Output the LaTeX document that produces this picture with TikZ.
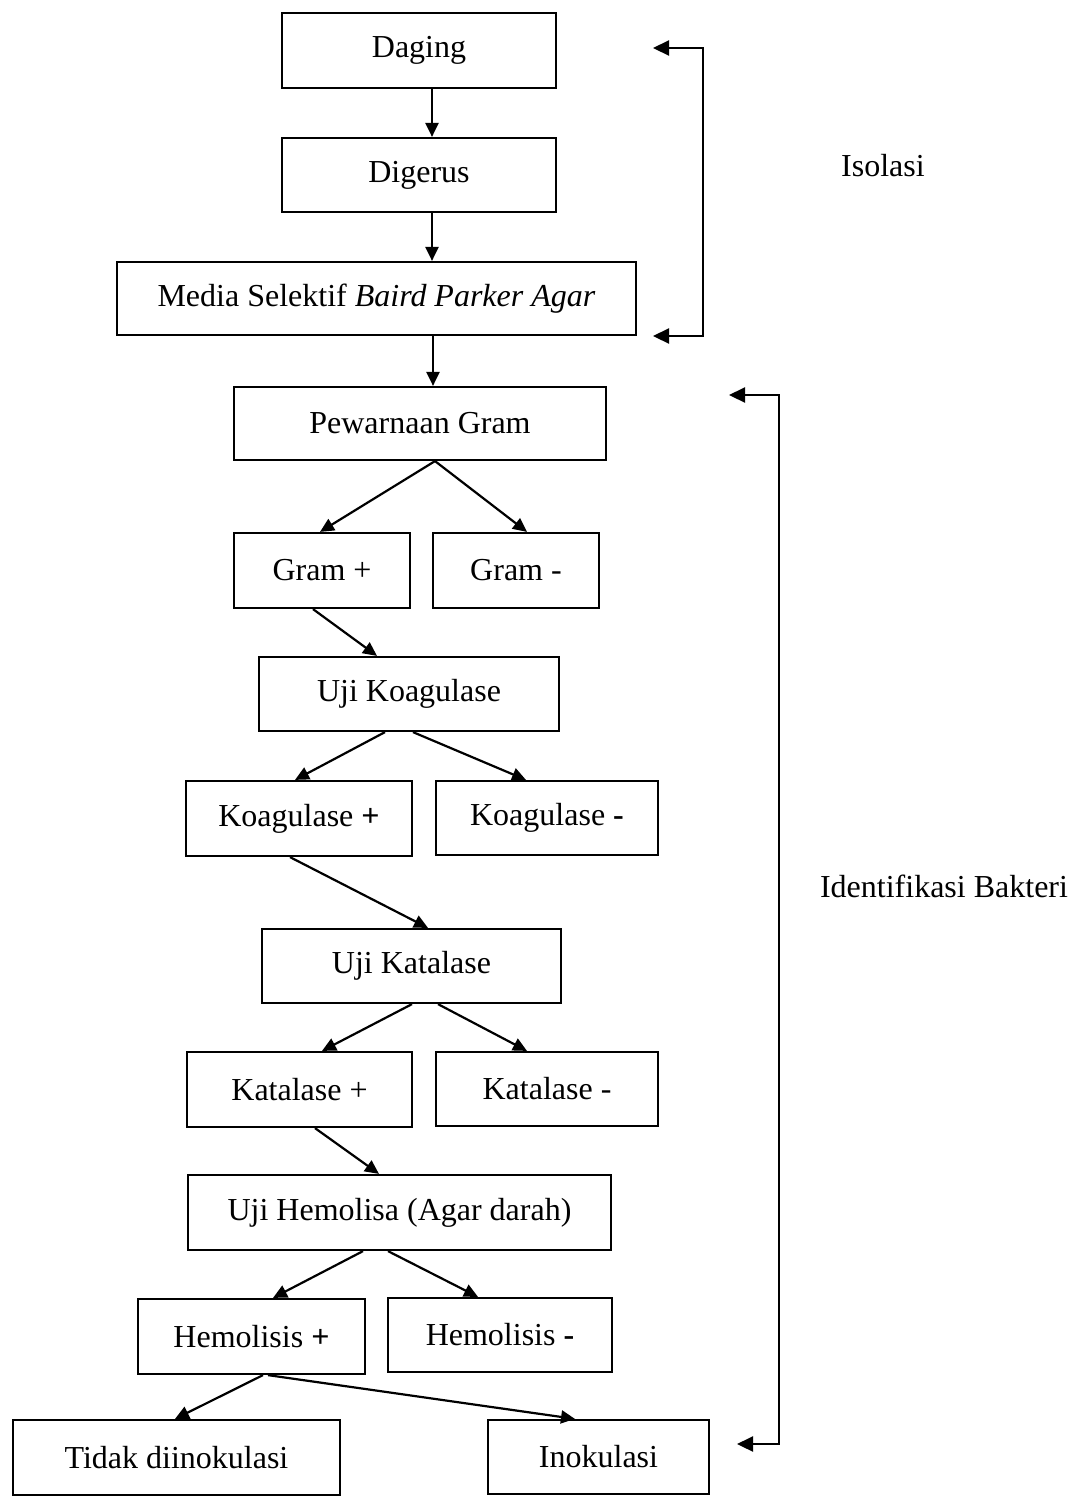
\documentclass[tikz,border=0pt]{standalone}
\usepackage{fontspec}
\setmainfont{Liberation Serif}
\usetikzlibrary{arrows.meta}
\tikzset{
  box/.style={draw=black, line width=2.2pt, inner sep=0pt, align=center,
    font=\fontsize{32}{38}\selectfont},
  arr/.style={line width=2.2pt, -{Triangle[length=14pt,width=13pt]}},
  brk/.style={line width=2.2pt, {Triangle[length=16pt,width=15pt]}-{Triangle[length=16pt,width=15pt]}},
  lbl/.style={inner sep=0pt, font=\fontsize{32}{38}\selectfont},
}
\begin{document}
\begin{tikzpicture}[x=1pt,y=-1pt]
\useasboundingbox (0,0) rectangle (1077,1497);
% boxes
\node[box, minimum width=274pt, minimum height=75pt] (daging) at (419,50.5) {Daging};
\node[box, minimum width=274pt, minimum height=74pt] (digerus) at (419,175) {Digerus};
\node[box, minimum width=519pt, minimum height=73pt] (media) at (376.5,298.5) {Media Selektif \textit{Baird Parker Agar}};
\node[box, minimum width=372pt, minimum height=73pt] (pew) at (420,423.5) {Pewarnaan Gram};
\node[box, minimum width=176pt, minimum height=75pt] (gramp) at (322,570.5) {Gram +};
\node[box, minimum width=166pt, minimum height=75pt] (gramm) at (516,570.5) {Gram -};
\node[box, minimum width=300pt, minimum height=74pt] (ujikoag) at (409,694) {Uji Koagulase};
\node[box, minimum width=226pt, minimum height=75pt] (koagp) at (299,818.5) {Koagulase \textbf{+}};
\node[box, minimum width=222pt, minimum height=74pt] (koagm) at (547,818) {Koagulase \textbf{-}};
\node[box, minimum width=299pt, minimum height=74pt] (ujikat) at (411.5,966) {Uji Katalase};
\node[box, minimum width=225pt, minimum height=75pt] (katp) at (299.5,1089.5) {Katalase +};
\node[box, minimum width=222pt, minimum height=74pt] (katm) at (547,1089) {Katalase -};
\node[box, minimum width=423pt, minimum height=75pt] (hemo) at (399.5,1212.5) {Uji Hemolisa (Agar darah)};
\node[box, minimum width=227pt, minimum height=75pt] (hemp) at (251.5,1336.5) {Hemolisis \textbf{+}};
\node[box, minimum width=224pt, minimum height=74pt] (hemm) at (500,1335) {Hemolisis \textbf{-}};
\node[box, minimum width=327pt, minimum height=75pt] (tidak) at (176.5,1457.5) {Tidak diinokulasi};
\node[box, minimum width=221pt, minimum height=74pt] (inok) at (598.5,1457) {Inokulasi};
% flow arrows
\draw[arr] ([xshift=13pt]daging.south) -- ([xshift=13pt]digerus.north);
\draw[arr] ([xshift=13pt]digerus.south) -- ([xshift=55.5pt]media.north);
\draw[arr] ([xshift=56.5pt]media.south) -- ([xshift=13pt]pew.north);
\draw[arr] ([xshift=15pt]pew.south) -- ([xshift=-2pt]gramp.north);
\draw[arr] ([xshift=15pt]pew.south) -- ([xshift=11pt]gramm.north);
\draw[arr] ([xshift=-9pt]gramp.south) -- ([xshift=-32pt]ujikoag.north);
\draw[arr] ([xshift=-24pt]ujikoag.south) -- ([xshift=-4pt]koagp.north);
\draw[arr] ([xshift=4pt]ujikoag.south) -- ([xshift=-21pt]koagm.north);
\draw[arr] ([xshift=-9pt]koagp.south) -- ([xshift=16.5pt]ujikat.north);
\draw[arr] ([xshift=0.5pt]ujikat.south) -- ([xshift=22.5pt]katp.north);
\draw[arr] ([xshift=26.5pt]ujikat.south) -- ([xshift=-20pt]katm.north);
\draw[arr] ([xshift=15.5pt]katp.south) -- ([xshift=-20.5pt]hemo.north);
\draw[arr] ([xshift=-36.5pt]hemo.south) -- ([xshift=21.5pt]hemp.north);
\draw[arr] ([xshift=-11.5pt]hemo.south) -- ([xshift=-22pt]hemm.north);
\draw[arr] ([xshift=11.5pt]hemp.south) -- ([xshift=-1.5pt]tidak.north);
\draw[arr] ([xshift=16.5pt]hemp.south) -- ([xshift=-23.5pt]inok.north);
% side brackets
\coordinate (isoA) at (653,48);
\coordinate (isoB) at (703,48);
\coordinate (isoC) at (703,336);
\coordinate (isoD) at (653,336);
\draw[brk] (isoA) -- (isoB) -- (isoC) -- (isoD);
\coordinate (idA) at (729,395);
\coordinate (idB) at (779,395);
\coordinate (idC) at (779,1444);
\coordinate (idD) at (737,1444);
\draw[brk] (idA) -- (idB) -- (idC) -- (idD);
% labels
\node[lbl] (isolasi) at (883,166) {Isolasi};
\node[lbl] (ident) at (944,886) {Identifikasi Bakteri};
\end{tikzpicture}
\end{document}
